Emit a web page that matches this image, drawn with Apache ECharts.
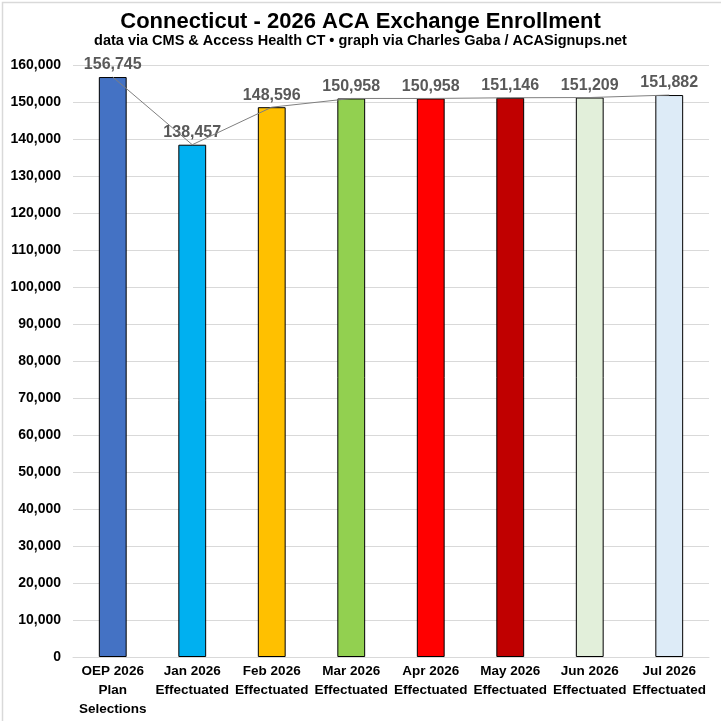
<!DOCTYPE html>
<html>
<head>
<meta charset="utf-8">
<script src="https://cdn.jsdelivr.net/npm/echarts@6/dist/echarts.min.js"></script>
<style>
html, body { margin: 0; padding: 0; background: #fff; }
#chart { width: 721px; height: 721px; }
</style>
</head>
<body>
<div id="chart"></div>
<script>
var categories = ['OEP 2026\nPlan\nSelections', 'Jan 2026\nEffectuated', 'Feb 2026\nEffectuated', 'Mar 2026\nEffectuated',
	'Apr 2026\nEffectuated', 'May 2026\nEffectuated', 'Jun 2026\nEffectuated', 'Jul 2026\nEffectuated'];
var enrollment = [156745, 138457, 148596, 150958, 150958, 151146, 151209, 151882];
var barColors = ['#4472C4', '#00B0F0', '#FFC000', '#92D050', '#FF0000', '#C00000', '#E2EFDA', '#DDEBF7'];

var chart = echarts.init(document.getElementById('chart'));

// bars, each one its own colour
var barData = enrollment.map(function(v, i) {
	return { value: v, itemStyle: { color: barColors[i] } };
});

chart.setOption({
	title : {
		text : 'Connecticut - 2026 ACA Exchange Enrollment',
		subtext : 'data via CMS & Access Health CT \u2022 graph via Charles Gaba / ACASignups.net',
		left : 'center',
		top : 6,
		itemGap : 0,
		textStyle : {
			fontFamily : 'Liberation Sans',
			fontWeight : 'bold',
			fontSize : 22,
			color : '#000'
		},
		subtextStyle : {
			fontFamily : 'Liberation Sans',
			fontWeight : 'bold',
			fontSize : 14.5,
			color : '#000'
		}
	},
	// thin frame round the whole picture
	graphic : [ {
		type : 'rect',
		left : 0,
		top : 0,
		shape : { width : 720, height : 720 },
		style : { fill : 'none', stroke : '#d9d9d9', lineWidth : 1.5 },
		silent : true
	} ],
	grid : {
		left : 73,
		right : 12,
		top : 65,
		bottom : 64,
		containLabel : false
	},
	xAxis : {
		type : 'category',
		data : categories,
		axisTick : { show : false },
		axisLine : { lineStyle : { color : '#d9d9d9' } },
		axisLabel : {
			interval : 0,
			margin : 5,
			lineHeight : 19,
			fontFamily : 'Liberation Sans',
			fontWeight : 'bold',
			fontSize : 13.5,
			color : '#000'
		}
	},
	yAxis : {
		type : 'value',
		min : 0,
		max : 160000,
		interval : 10000,
		axisLine : { show : false },
		axisTick : { show : false },
		splitLine : { lineStyle : { color : '#d9d9d9' } },
		axisLabel : {
			margin : 12,
			fontFamily : 'Liberation Sans',
			fontWeight : 'bold',
			fontSize : 14,
			color : '#000',
			formatter : function(v) { return v.toLocaleString('en-US'); }
		}
	},
	series : [ {
		name : 'Enrollment',
		type : 'bar',
		barWidth : '35%',
		data : barData,
		itemStyle : {
			borderColor : '#000',
			borderWidth : 1
		},
		label : {
			show : true,
			position : 'top',
			distance : 4,
			fontFamily : 'Liberation Sans',
			fontWeight : 'bold',
			fontSize : 16,
			color : '#595959',
			formatter : function(p) { return p.value.toLocaleString('en-US'); }
		},
		z : 2
	}, {
		name : 'Trend',
		type : 'line',
		data : enrollment,
		symbol : 'none',
		lineStyle : { color : '#7f7f7f', width : 1 },
		z : 3
	} ]
});
</script>
</body>
</html>
